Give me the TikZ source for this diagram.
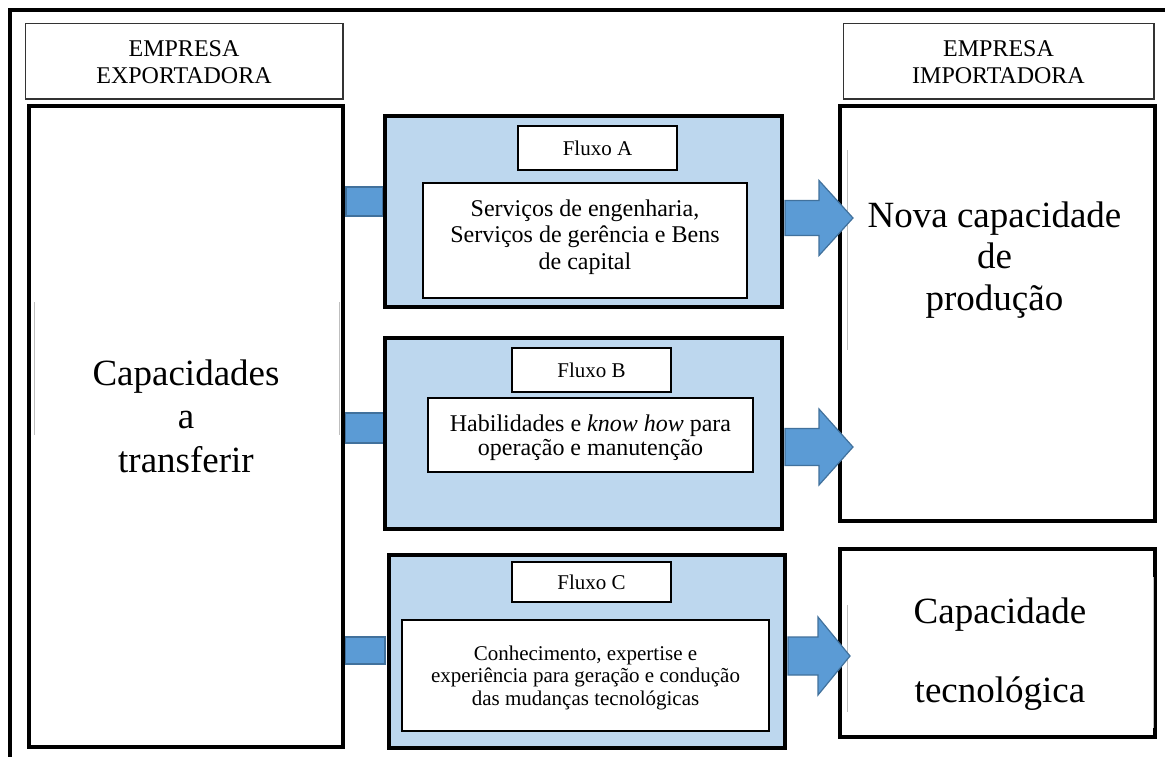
\documentclass[tikz,border=0pt]{standalone}
\usepackage{fontspec}
\setmainfont{Liberation Serif}
\usetikzlibrary{fit,calc}
\definecolor{lblue}{HTML}{BDD7EE}
\definecolor{mblue}{HTML}{5B9BD5}
\definecolor{dblue}{HTML}{41719C}
\tikzset{
  headbox/.style={draw=black!80, line width=1.5pt, fill=white, inner sep=0pt, outer sep=0pt},
  bigbox/.style={draw=black, line width=4pt, fill=white, inner sep=0pt, outer sep=0pt},
  flowbox/.style={draw=black, line width=4pt, fill=lblue, inner sep=0pt, outer sep=0pt},
  titlebox/.style={draw=black, line width=1.5pt, fill=white, inner sep=0pt, outer sep=0pt,
    minimum width=159, minimum height=44, font=\fontsize{21}{24}\selectfont},
  textbox/.style={draw=black, line width=1.5pt, fill=white, inner sep=0pt, outer sep=0pt},
  conn/.style={fill=mblue, draw=dblue, line width=1.5pt, inner sep=0pt, outer sep=0pt},
  fatarrow/.style={fill=mblue, draw=dblue, line width=1.2pt, line join=miter},
  faint/.style={draw=black!25, line width=0.8pt},
  txt/.style={align=center, inner sep=0pt, anchor=base},
  headtxt/.style={txt, font=\fontsize{24}{26.6}\selectfont},
  bigtxt/.style={txt, font=\fontsize{37}{42}\selectfont},
  flowtxt/.style={txt, font=\fontsize{24}{26.5}\selectfont},
  smalltxt/.style={txt, font=\fontsize{21}{22.5}\selectfont},
}
\newcommand\fatarr[5]{%
  \draw[fatarrow] ($(#1)+(0,-#4)$) -- ($(#1)+(#2,-#4)$) -- ($(#1)+(#2,-#5)$) -- ($(#1)+(#3,0)$)
    -- ($(#1)+(#2,#5)$) -- ($(#1)+(#2,#4)$) -- ($(#1)+(0,#4)$) -- cycle;}
\begin{document}
\begin{tikzpicture}[x=1pt,y=-1pt]
\useasboundingbox (0,0) rectangle (1165,756);
\fill[white] (0,0) rectangle (1165,756);
% outer frame (cut off at right and bottom)
\begin{scope}
  \clip (0,0) rectangle (1165,756);
  \draw[line width=4pt] (10,10) rectangle (1190,790);
\end{scope}

% connectors (small squares)
\node[conn, minimum width=37, minimum height=29] (cA) at (364.5,201.5) {};
\node[conn, minimum width=39, minimum height=30] (cB) at (364.5,428) {};
\node[conn, minimum width=40, minimum height=27] (cC) at (365,650.5) {};

% headers
\node[headbox, fit={(25.5,23.5) (343,99)}] (hexp) {};
\node[headtxt] (hexpt) at (184,83.3) {EMPRESA\\EXPORTADORA};
\node[headbox, fit={(843.5,23.5) (1154,99)}] (himp) {};
\node[headtxt] (himpt) at (998.5,83.3) {EMPRESA\\IMPORTADORA};

% big boxes
\node[bigbox, fit={(29,106) (343,747)}] (exp) {};
\node[bigtxt, font=\fontsize{37}{43.5}\selectfont] (expt) at (186,472) {Capacidades\\a\\transferir};
\node[bigbox, fit={(840,106) (1155,521)}] (nova) {};
\node[bigtxt, font=\fontsize{37}{41.5}\selectfont] (novat) at (994.5,310) {Nova capacidade\\de\\produção};
\node[bigbox, fit={(840,549) (1155,737)}] (tec) {};
\node[bigtxt, font=\fontsize{37}{79}\selectfont] (tect) at (1000,702) {Capacidade\\tecnológica};

% faint text-frame lines
\draw[faint] (34,302) -- (34,435);
\draw[faint] (339,302) -- (339,435);
\draw[faint] (847,150) -- (847,350);
\draw[faint] (847,605) -- (847,712);
\draw[faint] (1153,577) -- (1153,728);

% Fluxo A
\node[flowbox, fit={(385,116) (782,307)}] (fA) {};
\node[titlebox] (tA) at (597.5,148) {Fluxo A};
\node[textbox, fit={(423,183) (747,298)}] (bA) {};
\node[flowtxt] (bAt) at (585,269) {Serviços de engenharia,\\Serviços de gerência e Bens\\de capital};

% Fluxo B
\node[flowbox, fit={(385,338) (782,529)}] (fB) {};
\node[titlebox] (tB) at (591.5,370) {Fluxo B};
\node[textbox, fit={(428,398) (753,472)}] (bB) {};
\node[flowtxt, font=\fontsize{24}{24}\selectfont] (bBt) at (590.5,455) {Habilidades e \textit{know how} para\\operação e manutenção};

% Fluxo C
\node[flowbox, fit={(389,555) (785,748)}] (fC) {};
\node[titlebox, minimum height=40] (tC) at (591.5,582) {Fluxo C};
\node[textbox, fit={(402,620) (769,731)}] (bC) {};
\node[smalltxt] (bCt) at (585.5,705) {Conhecimento, expertise e\\experiência para geração e condução\\das mudanças tecnológicas};

% block arrows
\coordinate (aA) at (785,218);
\coordinate (aB) at (785,447);
\coordinate (aC) at (788,656);
\fatarr{aA}{34}{68}{17.5}{37.5}
\fatarr{aB}{34}{68}{18.5}{38}
\fatarr{aC}{30}{62}{19}{39}
\end{tikzpicture}
\end{document}
